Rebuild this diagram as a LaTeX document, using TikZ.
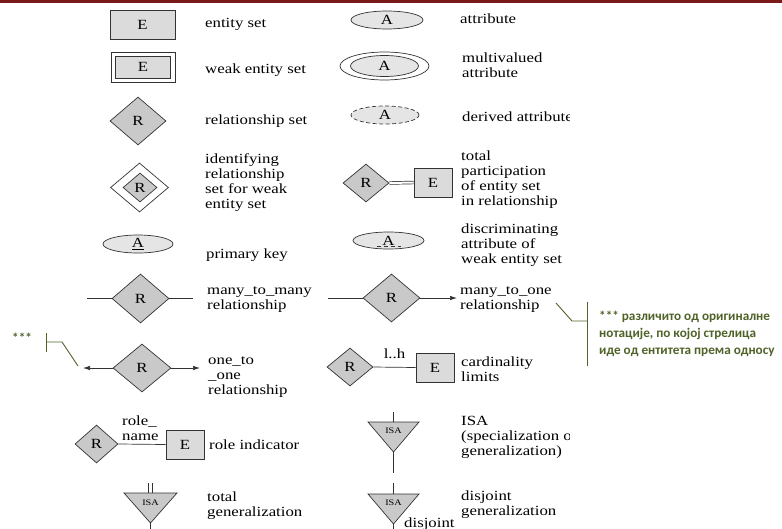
\documentclass[tikz,border=0pt]{standalone}
\usepackage{fontspec}
\setmainfont{Liberation Serif}[FakeStretch=1.2]
\newfontfamily\notefont{Carlito}
\usetikzlibrary{shapes.geometric,arrows.meta,calc}

\definecolor{ink}{gray}{0.2}
\definecolor{relgray}{gray}{0.79}
\definecolor{entgray}{gray}{0.86}
\definecolor{attgray}{gray}{0.9}
\definecolor{notegreen}{RGB}{79,98,40}
\definecolor{topband}{RGB}{122,26,26}

\begin{document}
\begin{tikzpicture}[x=1pt,y=-1pt,
  font=\fontsize{14}{15}\selectfont,
  shp/.style={draw=ink, line width=0.7pt, inner sep=0pt},
  ent/.style={shp, rectangle, fill=entgray, minimum width=38pt, minimum height=29pt},
  rel/.style={shp, diamond, fill=relgray},
  att/.style={shp, ellipse, fill=attgray},
  tri/.style={draw=ink, fill=relgray, line width=0.7pt, line join=miter},
  conn/.style={draw=ink, line width=0.7pt},
  tip/.style={-{Latex[length=7pt,width=4.5pt]}},
  desc/.style={anchor=west, align=left, inner sep=0pt},
  isatxt/.style={font=\fontsize{8.5}{9}\selectfont, inner sep=0pt},
  note/.style={draw=notegreen, line width=0.9pt},
  notetxt/.style={text=notegreen, font=\notefont\bfseries\fontsize{13.2}{17}\selectfont, anchor=west, align=left, inner sep=0pt},
]
\useasboundingbox (0,0) rectangle (782,528);
\fill[topband] (0,0) rectangle (782,2.5);

\begin{scope}
\clip (0,0) rectangle (569,528);

% ---- left column ----
\node[ent, minimum width=65pt] (ent) at (142.5,24.5) {E};
\node[desc] (dEnt) at (205,24) {entity set};

\node[shp, rectangle, minimum width=64pt, minimum height=30pt] (weakO) at (143,67) {};
\node[ent, minimum width=55pt, minimum height=22pt] (weak) at (143,67) {E};
\node[desc] (dWeak) at (205,70) {weak entity set};

\node[rel, minimum width=56pt, minimum height=48pt] (rel) at (138,121) {R};
\node[desc] (dRel) at (205,121) {relationship set};

\node[shp, diamond, fill=white, minimum width=58pt, minimum height=49pt] (idO) at (139.5,187.5) {};
\node[rel, minimum width=34pt, minimum height=29pt] (idI) at (140,187.5) {R};
\node[desc] (dId) at (205,182.5) {identifying\\relationship\\set for weak\\entity set};

\node[att, minimum width=70pt, minimum height=18pt] (pk) at (138,244) {\underline{A}};
\node[desc] (dPk) at (206,255) {primary key};

\node[rel, minimum width=57pt, minimum height=49pt] (mm) at (140.5,298.5) {R};
\coordinate (mmL) at (87,298.5);
\coordinate (mmR) at (193,298.5);
\draw[conn] (mmL) -- (mm.west);
\draw[conn] (mm.east) -- (mmR);
\node[desc] (dMm) at (207,300) {many\_to\_many\\relationship};

\node[rel, minimum width=58pt, minimum height=48pt] (oo) at (142,368) {R};
\coordinate (ooL) at (83,368);
\coordinate (ooR) at (200,368);
\draw[conn, tip] (oo.west) -- (ooL);
\draw[conn, tip] (oo.east) -- (ooR);
\node[desc] (dOo) at (208,377) {one\_to\\\_one\\relationship};

\node[rel, minimum width=43pt, minimum height=38pt] (roR) at (96.5,444) {R};
\node[ent] (roE) at (185,444.5) {E};
\draw[conn] (roR.east) -- (roE.west);
\node[desc] (roleName) at (122,428) {role\_\\name};
\node[desc] (dRo) at (209,445) {role indicator};

% total generalization
\coordinate (tgL) at (124,493);
\coordinate (tgR) at (177,493);
\coordinate (tgT) at (150.5,523);
\filldraw[tri] (tgL) -- (tgR) -- (tgT) -- cycle;
\node[isatxt] (tgIsa) at (150.5,503) {ISA};
\coordinate (tgU1) at (148.3,483);
\coordinate (tgU1e) at (148.3,493);
\coordinate (tgU2) at (152.7,483);
\coordinate (tgU2e) at (152.7,493);
\coordinate (tgDn) at (150.5,535);
\draw[conn] (tgU1) -- (tgU1e);
\draw[conn] (tgU2) -- (tgU2e);
\draw[conn] (tgT) -- (tgDn);
\node[desc] (dTg) at (207,505.5) {total\\generalization};

% ---- right column ----
\node[att, minimum width=72pt, minimum height=18pt] (attr) at (387,20) {A};
\node[desc] (dAttr) at (460,19) {attribute};

\node[shp, ellipse, fill=white, minimum width=89pt, minimum height=28pt] (mvO) at (384.5,66) {};
\node[att, minimum width=68pt, minimum height=21pt] (mv) at (384.5,66) {A};
\node[desc] (dMv) at (462,65.5) {multivalued\\attribute};

\node[att, dash pattern=on 4pt off 2.5pt, minimum width=68pt, minimum height=18pt] (der) at (385,115) {A};
\node[desc] (dDer) at (462,117) {derived attribute};

\node[rel, minimum width=46pt, minimum height=38pt] (tpR) at (366,183) {R};
\node[ent] (tpE) at (433,182.5) {E};
\draw[conn, double=white, double distance=2pt] (tpR.east) -- (tpE.west);
\node[desc] (dTp) at (461,179.5) {total\\participation\\of entity set\\in relationship};

\node[att, minimum width=71pt, minimum height=17pt] (disc) at (388.5,240.5) {A};
\draw[conn, dash pattern=on 4pt off 3pt] ($(disc.center)+(-12,6)$) -- ($(disc.center)+(12,6)$);
\node[desc] (dDisc) at (461,245) {discriminating\\attribute of\\weak entity set};

\node[rel, minimum width=57pt, minimum height=48pt] (mo) at (391.5,298) {R};
\coordinate (moL) at (328,298);
\coordinate (moR) at (457,298);
\draw[conn] (moL) -- (mo.west);
\draw[conn, tip] (mo.east) -- (moR);
\node[desc] (dMo) at (460,299.5) {many\_to\_one\\relationship};

\node[rel, minimum width=46pt, minimum height=38pt] (cR) at (350,367) {R};
\node[ent] (cE) at (435,367.5) {E};
\draw[conn] (cR.east) -- node[above=8pt, inner sep=0pt] (lh) {l..h} (cE.west);
\node[desc] (dCard) at (461,369.5) {cardinality\\limits};

% ISA
\coordinate (i1L) at (368,422);
\coordinate (i1R) at (419,422);
\coordinate (i1T) at (393.5,452);
\filldraw[tri] (i1L) -- (i1R) -- (i1T) -- cycle;
\node[isatxt] (i1Isa) at (393.5,431) {ISA};
\coordinate (i1Up) at (393.5,412);
\coordinate (i1Top) at (393.5,422);
\coordinate (i1Dn) at (393.5,473);
\draw[conn] (i1Up) -- (i1Top);
\draw[conn] (i1T) -- (i1Dn);
\node[desc] (dIsa) at (461,437) {ISA\\(specialization or\\generalization)};

% disjoint generalization
\coordinate (i2L) at (368,494);
\coordinate (i2R) at (419,494);
\coordinate (i2T) at (393.5,524);
\filldraw[tri] (i2L) -- (i2R) -- (i2T) -- cycle;
\node[isatxt] (i2Isa) at (393.5,503) {ISA};
\coordinate (i2Up) at (393.5,483);
\coordinate (i2Top) at (393.5,494);
\coordinate (i2Dn) at (393.5,535);
\draw[conn] (i2Up) -- (i2Top);
\draw[conn] (i2T) -- (i2Dn);
\node[anchor=base west, inner sep=0pt] (dj) at (404,527.5) {disjoint};
\node[desc] (dDj) at (461,504.5) {disjoint\\generalization};
\end{scope}

% ---- remarks ----
\node[notetxt] (starL) at (12,338) {***};
\coordinate (bL1) at (46,333);
\coordinate (bL2) at (46,352);
\coordinate (bL3) at (46,342);
\coordinate (bL4) at (62,342);
\coordinate (bL5) at (78,366);
\draw[note] (bL1) -- (bL2);
\draw[note] (bL3) -- (bL4) -- (bL5);

\coordinate (bR1) at (556,303);
\coordinate (bR2) at (572,321);
\coordinate (bR3) at (587,321);
\coordinate (bR4) at (587,302);
\coordinate (bR5) at (587,366);
\draw[note] (bR1) -- (bR2) -- (bR3);
\draw[note] (bR4) -- (bR5);
\node[notetxt] (noteR) at (599,334) {*** различито од оригиналне\\нотације, по којој стрелица\\иде од ентитета према односу};
\end{tikzpicture}
\end{document}
